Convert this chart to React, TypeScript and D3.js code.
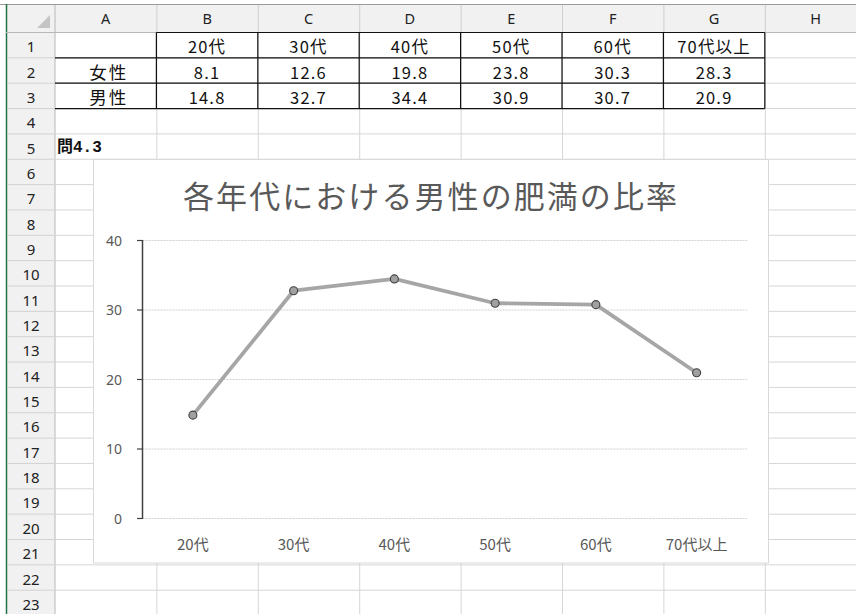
import * as d3 from "d3";

const categories = ["20代", "30代", "40代", "50代", "60代", "70代以上"];
const female = [8.1, 12.6, 19.8, 23.8, 30.3, 28.3];
const male = [14.8, 32.7, 34.4, 30.9, 30.7, 20.9];
const yTicks = [0, 10, 20, 30, 40];
const columnLetters = ["A", "B", "C", "D", "E", "F", "G", "H"];
const rowNumbers = d3.range(1, 24);
const rowLabels = ["女性", "男性"];
const chartTitle = "各年代における男性の肥満の比率";
const noteLabel = "問4.3";

const W = 856;
const H = 614;
const cellFont = "'Noto Sans CJK JP', 'Noto Sans', sans-serif";
const uiFont = "'Noto Sans', 'Noto Sans CJK JP', sans-serif";

export default function App() {
  // sheet geometry
  const col = d3.scaleBand<string>().domain(columnLetters).range([55, 55 + 8 * 101.4]);
  const row = d3.scaleBand<number>().domain(rowNumbers).range([32.5, 32.5 + 23 * 25.35]);
  const colX = (c: string) => col(c) ?? 0;
  const rowY = (r: number) => row(r) ?? 0;
  const cw = col.bandwidth();
  const rh = row.bandwidth();

  // chart geometry
  const box = { x0: 93, y0: 159.5, x1: 768, y1: 563 };
  const x = d3.scaleBand<string>().domain(categories).range([142.5, 747]);
  const y = d3.scaleLinear().domain([0, 40]).range([518, 240]);
  const px = (c: string) => (x(c) ?? 0) + x.bandwidth() / 2;
  const line = d3
    .line<number>()
    .x((_, i) => px(categories[i]))
    .y((d) => y(d));

  const dataCols = columnLetters.slice(1, 7);
  const tableTop = rowY(1);
  const tableBottom = rowY(3) + rh;

  return (
    <svg width={W} height={H} viewBox={`0 0 ${W} ${H}`} style={{ position: "absolute", left: 0, top: 0, background: "#fff" }}>
      {/* header strip */}
      <rect x={6} y={4} width={W} height={tableTop - 4} fill="#f1f1f1" />
      <rect x={6} y={4} width={49} height={H} fill="#f1f1f1" />
      <line x1={0} x2={W} y1={4.5} y2={4.5} stroke="#9a9a9a" />
      <line x1={6.5} x2={6.5} y1={4} y2={H} stroke="#217346" strokeWidth={1.5} />
      <path d="M50,15 L50,28 L37,28 Z" fill="#c4c4c4" />
      {columnLetters.map((c) => (
        <g key={c}>
          <line x1={colX(c) + cw + 0.5} x2={colX(c) + cw + 0.5} y1={5} y2={tableTop} stroke="#cfcfcf" />
          <text x={colX(c) + cw / 2} y={18} textAnchor="middle" dominantBaseline="central" fontFamily={uiFont} fontSize={14.5} fill="#222">
            {c}
          </text>
        </g>
      ))}
      <line x1={6} x2={W} y1={tableTop} y2={tableTop} stroke="#b8b8b8" />
      <line x1={55} x2={55} y1={5} y2={H} stroke="#b8b8b8" />
      {rowNumbers.map((r) => (
        <g key={r}>
          <line x1={7} x2={55} y1={rowY(r) + rh} y2={rowY(r) + rh} stroke="#d2d2d2" />
          <text x={31} y={rowY(r) + rh / 2 + 1} textAnchor="middle" dominantBaseline="central" fontFamily={uiFont} fontSize={15} fill="#222">
            {r}
          </text>
        </g>
      ))}

      {/* cell gridlines */}
      {rowNumbers.map((r) => (
        <line key={"h" + r} x1={55} x2={W} y1={rowY(r) + rh} y2={rowY(r) + rh} stroke="#d6d6d6" />
      ))}
      {columnLetters.map((c) => (
        <line key={"v" + c} x1={colX(c) + cw + 0.5} x2={colX(c) + cw + 0.5} y1={tableTop} y2={H} stroke="#d6d6d6" />
      ))}

      {/* table borders */}
      {[1, 2, 3].map((r) => (
        <line key={"tb" + r} x1={r === 1 ? colX("B") : 55} x2={colX("H")} y1={rowY(r)} y2={rowY(r)} stroke="#111" strokeWidth={1.2} />
      ))}
      <line x1={55} x2={colX("H")} y1={tableBottom} y2={tableBottom} stroke="#111" strokeWidth={1.2} />
      {columnLetters.slice(1).map((c) => (
        <line key={"tv" + c} x1={colX(c)} x2={colX(c)} y1={tableTop} y2={tableBottom} stroke="#111" strokeWidth={1.2} />
      ))}

      {/* table text */}
      {dataCols.map((c, i) => (
        <g key={"t" + c} fontFamily={cellFont} fontSize={16.5} letterSpacing={1.2} fill="#111" textAnchor="middle">
          <text x={colX(c) + cw / 2} y={rowY(1) + rh / 2 + 1} dominantBaseline="central">{categories[i]}</text>
          <text x={colX(c) + cw / 2} y={rowY(2) + rh / 2 + 1} dominantBaseline="central">{female[i]}</text>
          <text x={colX(c) + cw / 2} y={rowY(3) + rh / 2 + 1} dominantBaseline="central">{male[i]}</text>
        </g>
      ))}
      {rowLabels.map((t, i) => (
        <text key={t} x={colX("A") + cw / 2 + 3} y={rowY(i + 2) + rh / 2 + 1} dominantBaseline="central" textAnchor="middle" fontFamily={cellFont} fontSize={17.5} letterSpacing={2} fill="#111">
          {t}
        </text>
      ))}
      <text x={57} y={rowY(5) + rh / 2 + 1} dominantBaseline="central" fontFamily="'Liberation Mono', 'Noto Sans CJK JP', monospace" fontWeight="bold" fontSize={16} fill="#111">
        {noteLabel}
      </text>

      {/* chart */}
      <rect x={box.x0 + 0.5} y={box.y0} width={box.x1 - box.x0} height={box.y1 - box.y0} fill="#fff" stroke="#d9d9d9" />
      <text x={430} y={194} textAnchor="middle" dominantBaseline="central" fontFamily={cellFont} fontSize={31} textLength={494} fill="#595959">
        {chartTitle}
      </text>
      {yTicks.map((t) => (
        <g key={"g" + t}>
          <line x1={142.5} x2={747} y1={y(t) + 0.5} y2={y(t) + 0.5} stroke="#d0d0d0" strokeDasharray="2,1" />
          <line x1={137} x2={142.5} y1={y(t) + 0.5} y2={y(t) + 0.5} stroke="#404040" strokeWidth={1.2} />
          <text x={122} y={y(t)} textAnchor="end" dominantBaseline="central" fontFamily={uiFont} fontSize={14} fill="#595959">
            {t}
          </text>
        </g>
      ))}
      <line x1={142.5} x2={142.5} y1={y(40)} y2={y(0) + 1} stroke="#404040" strokeWidth={1.5} />
      {categories.map((c) => (
        <text key={"x" + c} x={px(c)} y={543} textAnchor="middle" dominantBaseline="central" fontFamily={cellFont} fontSize={15} fill="#595959">
          {c}
        </text>
      ))}
      <path d={line(male) ?? ""} fill="none" stroke="#a6a6a6" strokeWidth={3.8} strokeLinejoin="round" />
      {male.map((v, i) => (
        <circle key={"m" + i} cx={px(categories[i])} cy={y(v)} r={4} fill="#a0a0a0" stroke="#404040" strokeWidth={1.1} />
      ))}
    </svg>
  );
}
